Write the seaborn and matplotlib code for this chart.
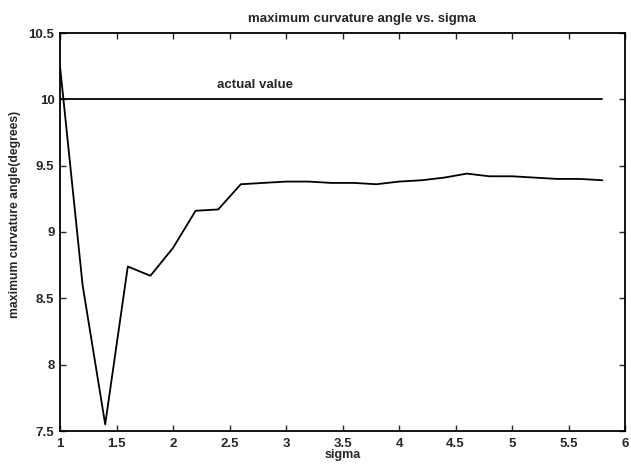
import matplotlib
matplotlib.use("Agg")
import matplotlib.pyplot as plt
import seaborn as sns
import pandas as pd

sigma = [1.0, 1.2, 1.4, 1.6, 1.8, 2.0, 2.2, 2.4, 2.6, 2.8, 3.0, 3.2, 3.4, 3.6,
         3.8, 4.0, 4.2, 4.4, 4.6, 4.8, 5.0, 5.2, 5.4, 5.6, 5.8]
angle = [10.25, 8.6, 7.55, 8.74, 8.67, 8.88, 9.16, 9.17, 9.36, 9.37, 9.38, 9.38, 9.37, 9.37,
         9.36, 9.38, 9.39, 9.41, 9.44, 9.42, 9.42, 9.41, 9.40, 9.40, 9.39]
actual_x = [1.0, 5.8]
actual_y = [10.0, 10.0]
xticks = [1, 1.5, 2, 2.5, 3, 3.5, 4, 4.5, 5, 5.5, 6]
xtick_labels = ["1", "1.5", "2", "2.5", "3", "3.5", "4", "4.5", "5", "5.5", "6"]
yticks = [7.5, 8, 8.5, 9, 9.5, 10, 10.5]
ytick_labels = ["7.5", "8", "8.5", "9", "9.5", "10", "10.5"]

sns.set_style("ticks")
plt.rcParams['font.family'] = ['Liberation Sans', 'DejaVu Sans']
plt.rcParams['font.weight'] = 'bold'
plt.rcParams['axes.titleweight'] = 'bold'
plt.rcParams['axes.labelweight'] = 'bold'

fig = plt.figure(figsize=(6.31, 4.66), dpi=100)
ax = fig.add_axes([60 / 631, 35 / 466, 565 / 631, 398 / 466])

df = pd.DataFrame({"sigma": sigma, "angle": angle})
sns.lineplot(data=df, x="sigma", y="angle", ax=ax, color="black", linewidth=1.3)
sns.lineplot(x=actual_x, y=actual_y, ax=ax, color="black", linewidth=1.3)

ax.text(2.73, 10.06, "actual value", fontsize=9.5, ha="center", va="bottom")
ax.set_xlim(1, 6)
ax.set_ylim(7.5, 10.5)
ax.set_xticks(xticks)
ax.set_xticklabels(xtick_labels)
ax.set_yticks(yticks)
ax.set_yticklabels(ytick_labels)
ax.tick_params(direction="in", top=True, right=True, labelsize=9.5, length=4, width=1, pad=4)
ax.tick_params(axis="x", pad=5)
for s in ax.spines.values():
    s.set_visible(True)
    s.set_linewidth(1.3)
    s.set_color("black")
ax.set_xlabel("sigma", fontsize=9)
ax.xaxis.set_label_coords(0.501, -0.045)
ax.set_ylabel("maximum curvature angle(degrees)", fontsize=8.8)
ax.yaxis.set_label_coords(-0.069, 0.543)
ax.set_title("maximum curvature angle vs. sigma", fontsize=9.5, x=0.535, pad=8)

fig.savefig("out.png", dpi=100)
